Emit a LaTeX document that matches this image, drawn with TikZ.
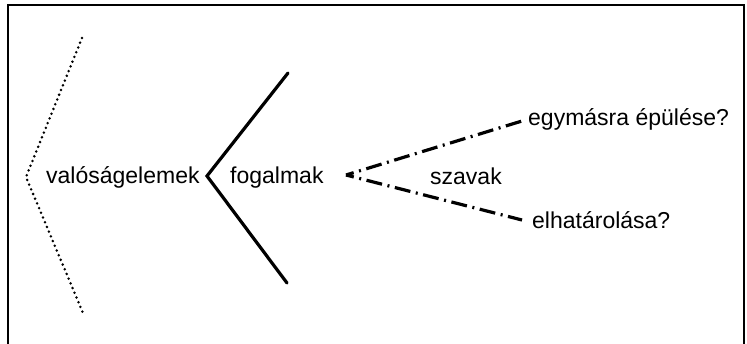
\documentclass[tikz,border=0pt]{standalone}
\usepackage{fontspec}
\setmainfont{Liberation Sans}
\begin{document}
\begin{tikzpicture}[x=1pt,y=-1pt,
  label/.style={inner sep=0pt,anchor=base west,font=\fontsize{23}{27}\selectfont},
  frameline/.style={line width=2.8pt},
  dotline/.style={line width=2.8pt,line cap=round,dash pattern=on 0pt off 5.1pt},
  solidline/.style={line width=3.2pt,line cap=round,line join=miter},
  dashdotline/.style={line width=3.2pt,line join=miter,
    dash pattern=on 16pt off 5.6pt on 2pt off 5.6pt,dash phase=8pt}]
\useasboundingbox (0,0) rectangle (747,343);
% outer frame (bottom edge lies below the page)
\draw[frameline] (8,360) -- (8,5) -- (744,5) -- (744,360);
% labels
\node[label] (val) at (46,183) {valóságelemek};
\node[label] (fog) at (230,183) {fogalmak};
\node[label] (sza) at (430,184) {szavak};
\node[label] (egy) at (528,125) {egymásra épülése?};
\node[label] (elh) at (532,228) {elhatárolása?};
% chevron points
\coordinate (dtop) at (82,38);
\coordinate (dapex) at (26,177);
\coordinate (dbot) at (83,313);
\coordinate (stop) at (288,73);
\coordinate (sapex) at (207,176);
\coordinate (sbot) at (287,283);
\coordinate (capex) at (346,175);
\coordinate (cup) at (522,121);
\coordinate (clow) at (522,220);
\draw[dotline] (dtop) -- (dapex) -- (dbot);
\draw[solidline] (stop) -- (sapex) -- (sbot);
% dash-dot rays, starting with a short dash at the apex
\draw[dashdotline] (capex) -- (cup);
\draw[dashdotline] (capex) -- (clow);
\end{tikzpicture}
\end{document}
